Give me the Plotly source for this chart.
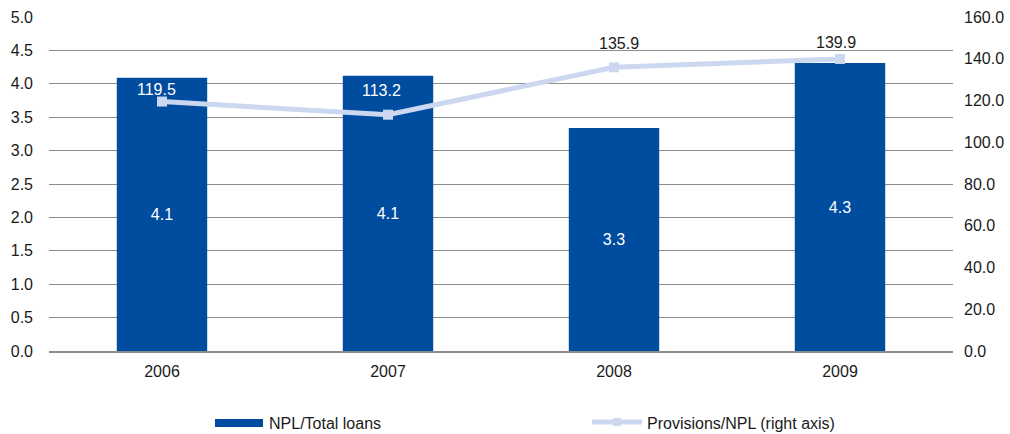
import plotly.graph_objects as go

# Data
years = ["2006", "2007", "2008", "2009"]
npl_ratio = [4.09, 4.12, 3.34, 4.31]          # NPL / total loans, left axis
provisions = [119.5, 113.2, 135.9, 139.9]     # provisions / NPL, right axis
left_ticks = [0, 0.5, 1, 1.5, 2, 2.5, 3, 3.5, 4, 4.5, 5]
right_ticks = [0, 20, 40, 60, 80, 100, 120, 140, 160]

BAR_COLOR = "#004C9F"
LINE_COLOR = "#CBD8F0"
GRID_COLOR = "#8C8C8C"
TEXT_COLOR = "#1a1a1a"
FONT = "Liberation Sans, Arial, sans-serif"
FS = 16

# plot area in pixels, used to place the hand-drawn legend
PX_L, PX_R, PX_T, PX_B = 49, 953, 17, 351


def px(x):
    return (x - PX_L) / (PX_R - PX_L)


def py(y):
    return (PX_B - y) / (PX_B - PX_T)


fig = go.Figure()

fig.add_trace(go.Bar(
    x=years, y=npl_ratio, name="NPL/Total loans",
    marker=dict(color=BAR_COLOR, line=dict(width=0)),
    width=0.4,
    texttemplate="%{y:.1f}", textposition="inside",
    insidetextanchor="middle",
    textfont=dict(color="white", size=FS, family=FONT),
    yaxis="y", showlegend=False,
))

fig.add_trace(go.Scatter(
    x=years, y=provisions, name="Provisions/NPL (right axis)",
    mode="lines+markers",
    line=dict(color=LINE_COLOR, width=5),
    marker=dict(symbol="square", size=10, color=LINE_COLOR),
    yaxis="y2", showlegend=False,
))

# value labels for the line: white where they sit over a bar
label_colors = ["white", "white", TEXT_COLOR, TEXT_COLOR]
label_dx = [-6, -7, 5, -4]
label_dy = [12, 24, 24, 16]
for i, v in enumerate(provisions):
    fig.add_annotation(
        x=i, y=v, xref="x", yref="y2", text=f"{v:.1f}", showarrow=False,
        xshift=label_dx[i], yshift=label_dy[i],
        font=dict(color=label_colors[i], size=FS, family=FONT),
    )

# legend drawn along the bottom
fig.add_shape(type="rect", xref="paper", yref="paper",
              x0=px(215), x1=px(263), y0=py(419), y1=py(427),
              fillcolor=BAR_COLOR, line=dict(width=0))
fig.add_annotation(xref="paper", yref="paper", x=px(267), y=py(423),
                   xanchor="left", yanchor="middle",
                   text="NPL/Total loans", showarrow=False,
                   font=dict(size=FS, color=TEXT_COLOR, family=FONT))
fig.add_shape(type="line", xref="paper", yref="paper",
              x0=px(592), x1=px(642), y0=py(422), y1=py(422),
              line=dict(color=LINE_COLOR, width=5))
fig.add_shape(type="rect", xref="paper", yref="paper",
              x0=px(613), x1=px(621), y0=py(418), y1=py(426),
              fillcolor=LINE_COLOR, line=dict(width=0))
fig.add_annotation(xref="paper", yref="paper", x=px(645), y=py(423),
                   xanchor="left", yanchor="middle",
                   text="Provisions/NPL (right axis)", showarrow=False,
                   font=dict(size=FS, color=TEXT_COLOR, family=FONT))

fig.update_layout(
    width=1010, height=434,
    margin=dict(l=PX_L, r=1010 - PX_R, t=PX_T, b=434 - PX_B, autoexpand=False),
    paper_bgcolor="white", plot_bgcolor="white",
    font=dict(family=FONT, size=FS, color=TEXT_COLOR),
    xaxis=dict(
        type="category", range=[-0.5, 3.5], showgrid=False, showline=True,
        linecolor=GRID_COLOR, linewidth=1.5, ticks="", ticklabelstandoff=5,
        automargin=False,
    ),
    yaxis=dict(
        range=[0, 5], tickvals=left_ticks, tickformat=".1f",
        showgrid=True, gridcolor=GRID_COLOR, gridwidth=1,
        zeroline=False, showline=False, ticks="", ticklabelstandoff=15,
        automargin=False,
    ),
    yaxis2=dict(
        range=[0, 160], tickvals=right_ticks, tickformat=".1f",
        overlaying="y", side="right", showgrid=False,
        zeroline=False, showline=False, ticks="", ticklabelstandoff=10,
        automargin=False,
    ),
)

fig.write_html("out.html")
